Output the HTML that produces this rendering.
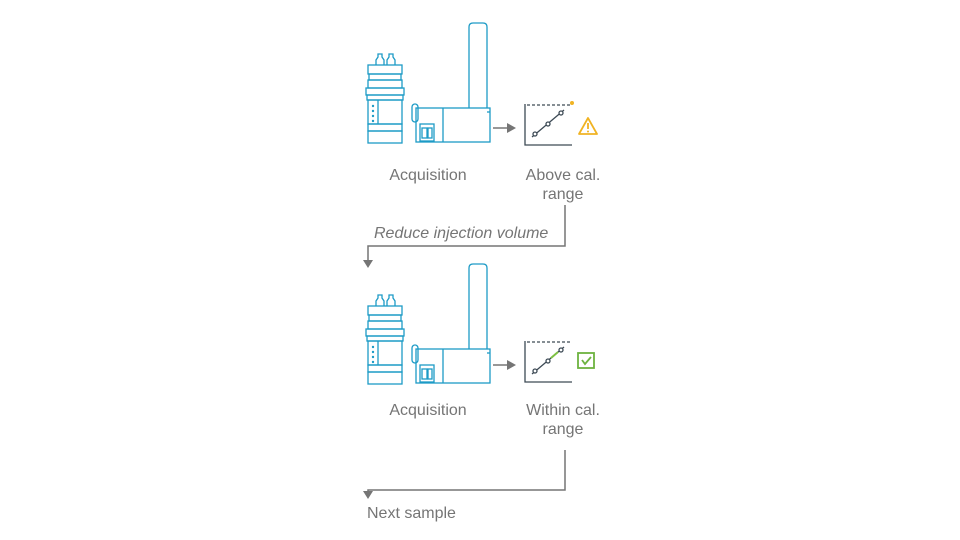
<!DOCTYPE html>
<html><head><style>
body{margin:0;background:#fff;width:960px;height:540px;overflow:hidden}
svg{display:block}
text{font-family:"Liberation Sans",sans-serif;fill:#757575;font-size:16px}
</style></head><body>
<svg width="960" height="540" viewBox="0 0 960 540">
<defs>
<g id="inst" fill="none" stroke="#1d9bc6" stroke-width="1.3">
  <path d="M376 65 v-5 l2-3 v-3 h4 v3 l2 3 v5 M387 65 v-5 l2-3 v-3 h4 v3 l2 3 v5"/>
  <rect x="368" y="65" width="34" height="9"/>
  <rect x="369" y="74" width="32" height="6"/>
  <rect x="368" y="80" width="34" height="8"/>
  <rect x="366" y="88" width="38" height="7"/>
  <rect x="367" y="95" width="36" height="5"/>
  <rect x="368" y="100" width="34" height="24"/>
  <line x1="378" y1="100" x2="378" y2="124"/>
  <rect x="368" y="124" width="34" height="7"/>
  <rect x="368" y="131" width="34" height="12"/>
  <g fill="#1d9bc6" stroke="none"><circle cx="373" cy="106" r="1.2"/><circle cx="373" cy="111" r="1.2"/><circle cx="373" cy="116" r="1.2"/><circle cx="373" cy="121" r="1.2"/></g>
  <path d="M469 108 V27 q0-4 4-4 h10 q4 0 4 4 V108"/>
  <rect x="416" y="108" width="74" height="34"/>
  <line x1="443" y1="108" x2="443" y2="142"/>
  <rect x="412" y="104" width="6" height="18" rx="3"/>
  <rect x="420" y="124" width="14" height="17"/>
  <rect x="422" y="128" width="5" height="10"/>
  <rect x="428" y="128" width="4" height="10"/>
  <line x1="487" y1="112" x2="490" y2="112"/>
</g>
</defs>
<use href="#inst"/>
<use href="#inst" transform="translate(0,241)"/>
<g stroke="#757575" stroke-width="1.5" fill="none">
<line x1="493" y1="128" x2="508" y2="128"/>
<line x1="493" y1="365" x2="508" y2="365"/>
<polyline points="565,205 565,246 368,246 368,262"/>
<polyline points="565,450 565,490 368,490 368,493"/>
</g>
<g fill="#757575">
<polygon points="507,123 516,128 507,133"/>
<polygon points="507,360 516,365 507,370"/>
<polygon points="363,260 373,260 368,268"/>
<polygon points="363,491 373,491 368,499"/>
</g>
<g stroke="#3d4a55" stroke-width="1.3" fill="none">
<polyline points="525,104 525,145 572,145"/>
<line x1="527" y1="105" x2="570" y2="105" stroke-dasharray="3,2"/>
<line x1="532" y1="137" x2="564" y2="110"/>
<circle cx="535" cy="134" r="2" fill="#fff"/><circle cx="548" cy="124" r="2" fill="#fff"/><circle cx="561" cy="113" r="2" fill="#fff"/>
</g>
<circle cx="572" cy="103" r="2" fill="#f0b323"/>
<path d="M588 118 L597 134 H579 Z" fill="none" stroke="#f0b323" stroke-width="1.8" stroke-linejoin="round"/>
<line x1="588" y1="123" x2="588" y2="129" stroke="#f0b323" stroke-width="1.8"/>
<circle cx="588" cy="131.5" r="1" fill="#f0b323"/>
<g stroke="#3d4a55" stroke-width="1.3" fill="none">
<polyline points="525,341 525,382 572,382"/>
<line x1="527" y1="342" x2="570" y2="342" stroke-dasharray="3,2"/>
<line x1="532" y1="374" x2="564" y2="347"/>
<circle cx="535" cy="371" r="2" fill="#fff"/><circle cx="548" cy="361" r="2" fill="#fff"/><circle cx="561" cy="350" r="2" fill="#fff"/>
</g>
<line x1="551" y1="358" x2="558" y2="352" stroke="#7dc142" stroke-width="2"/>
<rect x="578" y="353" width="16" height="15" fill="none" stroke="#6db33f" stroke-width="1.8"/>
<polyline points="582,360 585,364 591,357" fill="none" stroke="#6db33f" stroke-width="1.8"/>
<text x="428" y="180" text-anchor="middle">Acquisition</text>
<text x="563" y="180" text-anchor="middle">Above cal.</text>
<text x="563" y="199" text-anchor="middle">range</text>
<text x="374" y="238" font-style="italic">Reduce injection volume</text>
<text x="428" y="415" text-anchor="middle">Acquisition</text>
<text x="563" y="415" text-anchor="middle">Within cal.</text>
<text x="563" y="434" text-anchor="middle">range</text>
<text x="367" y="518">Next sample</text>
</svg>
</body></html>
